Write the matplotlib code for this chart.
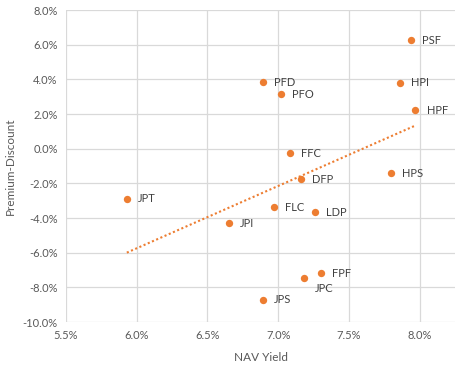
import numpy as np
import matplotlib.pyplot as plt
from matplotlib.ticker import FuncFormatter

# 数据（单位：%）
tickers = ['PSF', 'HPI', 'HPF', 'PFD', 'PFO', 'FFC', 'DFP', 'HPS', 'JPT',
           'JPI', 'FLC', 'LDP', 'FPF', 'JPC', 'JPS']
nav_yield = [7.94, 7.86, 7.97, 6.89, 7.02, 7.08, 7.16, 7.80, 5.93,
             6.65, 6.97, 7.26, 7.30, 7.18, 6.89]
prem_disc = [6.25, 3.79, 2.23, 3.83, 3.13, -0.27, -1.75, -1.41, -2.90,
             -4.31, -3.37, -3.67, -7.19, -7.48, -8.73]

x_ticks = [5.5, 6.0, 6.5, 7.0, 7.5, 8.0]
y_ticks = [-10, -8, -6, -4, -2, 0, 2, 4, 6, 8]

orange = '#ED7D31'
grey_text = '#595959'
plt.rcParams['font.family'] = ['Lato', 'DejaVu Sans']

fig = plt.figure(figsize=(4.73, 3.76), dpi=100)
ax = fig.add_axes([0.1395, 0.1436, 0.8225, 0.8298])

ax.scatter(nav_yield, prem_disc, s=28, color=orange, zorder=3, linewidths=0)

# 线性趋势线
coef = np.polyfit(nav_yield, prem_disc, 1)
xs = np.array([min(nav_yield), max(nav_yield)])
ax.plot(xs, np.polyval(coef, xs), color=orange, linestyle=(0, (1, 1.2)), lw=1.5, zorder=2)

# 数据标签
for name, x, y in zip(tickers, nav_yield, prem_disc):
    off = (8, -7) if name == 'JPC' else (8, 0)
    ax.annotate(name, (x, y), xytext=off, textcoords='offset points',
                ha='left', va='center', fontsize=8, color='#404040')

ax.set_xlim(5.5, 8.25)
ax.set_ylim(-10, 8)
ax.set_xticks(x_ticks)
ax.set_yticks(y_ticks)
ax.xaxis.set_major_formatter(FuncFormatter(lambda v, p: f'{v:.1f}%'))
ax.yaxis.set_major_formatter(FuncFormatter(lambda v, p: f'{v:.1f}%'))
ax.tick_params(length=0, labelsize=8, labelcolor=grey_text, pad=6)
for s in ax.spines.values():
    s.set_visible(False)
ax.grid(True, color='#D9D9D9', lw=0.9)
ax.set_axisbelow(True)

ax.set_xlabel('NAV Yield', fontsize=8.5, color=grey_text, labelpad=8)
ax.set_ylabel('Premium-Discount', fontsize=8.5, color=grey_text, labelpad=5)

fig.savefig('out.png', dpi=100)
